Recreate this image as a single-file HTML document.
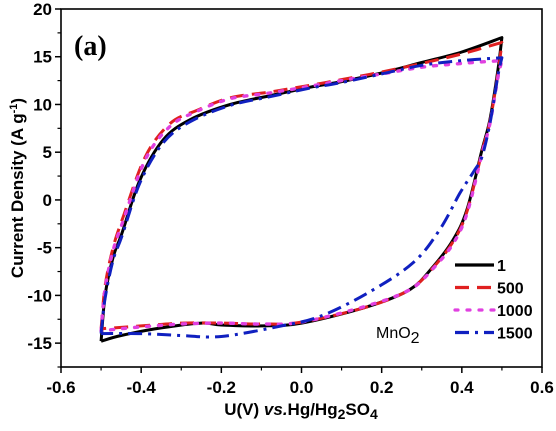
<!DOCTYPE html>
<html><head><meta charset="utf-8"><style>
body{margin:0;background:#fff;}
svg{display:block;font-family:"Liberation Sans",Arial,sans-serif;}
</style></head><body>
<svg id="chart" width="556" height="431" viewBox="0 0 556 431"></svg>
<script>
const xTicks=[-0.6,-0.4,-0.2,0.0,0.2,0.4,0.6];
const xTickLabels=["-0.6","-0.4","-0.2","0.0","0.2","0.4","0.6"];
const yTicks=[-15,-10,-5,0,5,10,15,20];
const yTickLabels=["-15","-10","-5","0","5","10","15","20"];
const seriesNames=["1","500","1000","1500"];
const s1X=[-0.5,-0.49,-0.47,-0.448,-0.403,-0.345,-0.278,-0.178,-0.08,0.02,0.1,0.2,0.3,0.4,0.5, 0.49,0.47,0.45,0.413,0.378,0.328,0.27,0.163,0,-0.1,-0.2,-0.25,-0.35,-0.45,-0.5];
const s1Y=[-14.8,-10,-6,-3.5,2.1,6.3,8.4,10,10.9,11.8,12.4,13.3,14.4,15.5,17, 13.6,8.4,5.2,-1,-4.2,-7,-9.4,-11.2,-12.9,-13.2,-13.1,-12.9,-13.4,-14.2,-14.8];
const s2X=[-0.5,-0.49,-0.47,-0.445,-0.39,-0.328,-0.26,-0.178,-0.08,0.02,0.1,0.2,0.3,0.4,0.5, 0.49,0.47,0.45,0.413,0.378,0.328,0.27,0.163,0,-0.1,-0.2,-0.3,-0.4,-0.5];
const s2Y=[-13.5,-9,-5,-1.8,4.5,8,9.4,10.7,11.3,12,12.6,13.4,14.3,15.3,16.5, 13.2,8.2,5,-1.2,-4.4,-7.1,-9.4,-11.2,-12.8,-13,-12.9,-12.9,-13.2,-13.5];
const s3X=[-0.5,-0.49,-0.47,-0.445,-0.39,-0.328,-0.26,-0.178,-0.08,0.02,0.1,0.2,0.3,0.4,0.5, 0.49,0.47,0.45,0.413,0.378,0.328,0.27,0.163,0,-0.1,-0.2,-0.3,-0.4,-0.5];
const s3Y=[-13.7,-9.3,-5.3,-2.2,4.2,7.7,9.3,10.6,11.2,11.9,12.5,13.2,13.9,14.3,14.6, 12.8,8,4.8,-1.4,-4.6,-7.2,-9.4,-11.1,-12.8,-13,-12.9,-13,-13.3,-13.7];
const s4X=[-0.5,-0.49,-0.47,-0.448,-0.403,-0.345,-0.278,-0.178,-0.08,0.02,0.1,0.2,0.3,0.4,0.5, 0.49,0.47,0.45,0.43,0.395,0.345,0.278,0.163,0.046,-0.05,-0.2,-0.3,-0.4,-0.5];
const s4Y=[-14,-10.3,-6.3,-3.8,1.8,6,8.2,9.9,10.8,11.7,12.3,13.2,14.1,14.6,14.9, 13,8,4.5,3,0.7,-3.1,-6.6,-9.8,-12.2,-13.2,-14.3,-14.2,-14,-14];
const seriesX=[s1X,s2X,s3X,s4X];
const seriesY=[s1Y,s2Y,s3Y,s4Y];
const colors=["#000","#e02020","#e040e0","#1020c0"];
const dashes=["","14,8","3,9","14,6,3,6"];
const L=61,R=542,T=9,B=367,xmin=-0.6,xmax=0.6,ymin=-17.5,ymax=20;
const sx=v=>L+(v-xmin)/(xmax-xmin)*(R-L);
const sy=v=>B-(v-ymin)/(ymax-ymin)*(B-T);
const svg=document.getElementById('chart');
const NS="http://www.w3.org/2000/svg";
function mk(tag,attrs,txt){const e=document.createElementNS(NS,tag);for(const k in attrs)e.setAttribute(k,attrs[k]);if(txt!==undefined)e.textContent=txt;svg.appendChild(e);return e;}
function smooth(pts){
 let d='';
 for(let i=0;i<pts.length-1;i++){
  const p0=pts[Math.max(0,i-1)],p1=pts[i],p2=pts[i+1],p3=pts[Math.min(pts.length-1,i+2)];
  const c1=[p1[0]+(p2[0]-p0[0])/6,p1[1]+(p2[1]-p0[1])/6];
  const c2=[p2[0]-(p3[0]-p1[0])/6,p2[1]-(p3[1]-p1[1])/6];
  d+=' C'+c1[0].toFixed(1)+','+c1[1].toFixed(1)+' '+c2[0].toFixed(1)+','+c2[1].toFixed(1)+' '+p2[0].toFixed(1)+','+p2[1].toFixed(1);
 }
 return d;
}
seriesX.forEach((xs,i)=>{
 const pts=xs.map((x,j)=>[sx(x),sy(seriesY[i][j])]);
 let k=0;xs.forEach((x,j)=>{if(x>=xs[k])k=j;});
 // k = last index of max x; use first max x index as vertex
 let kf=xs.indexOf(Math.max(...xs));
 const up=pts.slice(0,kf+1),lo=pts.slice(kf);
 const d='M'+up[0][0].toFixed(1)+','+up[0][1].toFixed(1)+smooth(up)+smooth(lo);
 const p=mk('path',{d:d,fill:'none',stroke:colors[i],'stroke-width':i==2?3.4:3,'stroke-dasharray':dashes[i],'stroke-linejoin':'round','stroke-linecap':i==2?'round':'butt'});
 
 
});
const fr=mk('rect',{x:L,y:T,width:R-L,height:B-T,fill:'none',stroke:'#000','stroke-width':1.6});


xTicks.forEach((v,i)=>{
 mk('line',{x1:sx(v),x2:sx(v),y1:B,y2:B+6,stroke:'#000','stroke-width':1.5});
 if(i<xTicks.length-1){const m=sx(v+0.1);mk('line',{x1:m,x2:m,y1:B,y2:B+3.5,stroke:'#000','stroke-width':1.2});}
 const t=mk('text',{x:sx(v),y:B+26,'text-anchor':'middle','font-size':17,'font-weight':'bold'},xTickLabels[i]);
 
 
});
yTicks.forEach((v,i)=>{
 mk('line',{x1:L-6,x2:L,y1:sy(v),y2:sy(v),stroke:'#000','stroke-width':1.5});
 const m=sy(v-2.5);mk('line',{x1:L-3.5,x2:L,y1:m,y2:m,stroke:'#000','stroke-width':1.2});
 const t=mk('text',{x:L-9,y:sy(v)+6,'text-anchor':'end','font-size':17,'font-weight':'bold'},yTickLabels[i]);
 
 
});
seriesNames.forEach((n,i)=>{
 const y=265+i*22.5;
 const l=mk('line',{x1:455,x2:494,y1:y,y2:y,stroke:colors[i],'stroke-width':3.2,'stroke-dasharray':dashes[i],'stroke-linecap':i==2?'round':'butt'});
 
 
 const t=mk('text',{x:497,y:y+6,'font-size':16,'font-weight':'bold'},n);
 
 
});
</script>
<svg style="position:absolute;left:0;top:0" width="556" height="431">
<text x="74" y="55" font-family="Liberation Serif,serif" font-size="28" font-weight="bold">(a)</text>
<text x="376" y="338" font-family="Liberation Sans,sans-serif" font-size="16">MnO<tspan dy="5">2</tspan></text>
<text x="301" y="415" text-anchor="middle" font-family="Liberation Sans,sans-serif" font-size="17" font-weight="bold">U(V) <tspan font-style="italic">vs.</tspan>Hg/Hg<tspan dy="4" font-size="14">2</tspan><tspan dy="-4">SO</tspan><tspan dy="4" font-size="14">4</tspan></text>
<text transform="translate(23,188) rotate(-90)" text-anchor="middle" font-family="Liberation Sans,sans-serif" font-size="17" font-weight="bold">Current Density (A g<tspan dy="-6" font-size="11">-1</tspan><tspan dy="6">)</tspan></text>
</svg>
</body></html>
